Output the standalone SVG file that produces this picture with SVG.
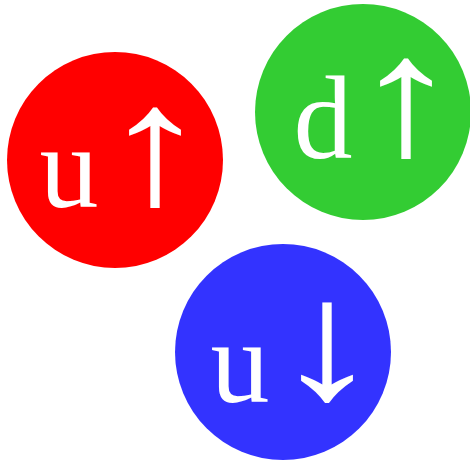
<svg xmlns="http://www.w3.org/2000/svg" width="470" height="462" viewBox="0 0 470 462">
<style>
.lbl{font-family:"Liberation Serif","DejaVu Serif",serif;font-size:118px;fill:#ffffff;text-anchor:middle}
.arr{font-family:"Liberation Serif","DejaVu Serif",serif;font-size:170px;fill:#ffffff;text-anchor:middle}
</style>
<rect width="470" height="462" fill="#ffffff"/>
<g id="red">
<circle cx="115" cy="160" r="108" fill="#ff0000"/>
<text class="lbl" x="69" y="207">u</text>
<text class="arr" transform="translate(155,203) scale(1.3,1)">↑</text>
</g>
<g id="green">
<circle cx="363" cy="112" r="108" fill="#33cc33"/>
<text class="lbl" x="323" y="158">d</text>
<text class="arr" transform="translate(406,154) scale(1.3,1)">↑</text>
</g>
<g id="blue">
<circle cx="283" cy="352" r="108" fill="#3333ff"/>
<text class="lbl" x="240" y="402">u</text>
<text class="arr" transform="translate(327,398) scale(1.3,1)">↓</text>
</g>
<g id="connectors"/>
</svg>
